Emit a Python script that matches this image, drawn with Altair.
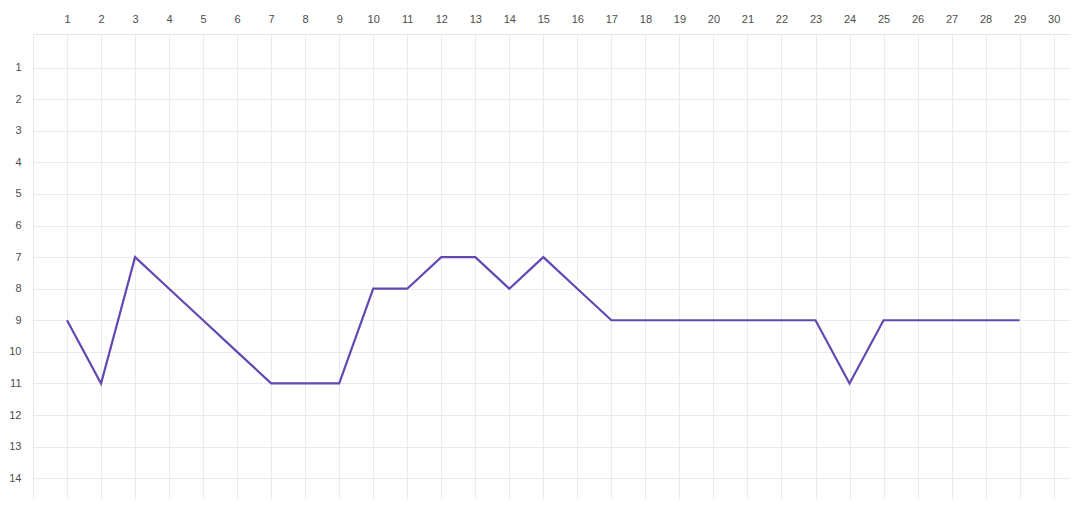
import altair as alt
import pandas as pd

days = list(range(1, 30))
ranks = [9, 11, 7, 8, 9, 10, 11, 11, 11, 8, 8, 7, 7, 8, 7, 8, 9, 9, 9, 9, 9, 9, 9, 11, 9, 9, 9, 9, 9]
x_ticks = list(range(0, 31))
y_ticks = list(range(1, 15))

df = pd.DataFrame({"day": days, "rank": ranks})

chart = alt.Chart(df).mark_line(color="#6248b2", strokeWidth=2.2).encode(
    x=alt.X("day:Q", scale=alt.Scale(domain=[0, 30.48], nice=False, zero=False),
            axis=alt.Axis(orient="top", values=x_ticks, title=None, domain=True,
                          domainColor="#e4e4e4", domainWidth=1, ticks=False,
                          labelExpr="datum.value == 0 ? '' : datum.label",
                          labelFont="Liberation Sans", labelFontSize=11, labelColor="#4d4d4d",
                          labelPadding=10, gridColor="#ebebeb", gridWidth=1, labelFlush=False)),
    y=alt.Y("rank:Q", scale=alt.Scale(domain=[-0.065, 14.66], nice=False, zero=False, reverse=True),
            axis=alt.Axis(values=y_ticks, title=None, domain=False, ticks=False,
                          labelFont="Liberation Sans", labelFontSize=11, labelColor="#4d4d4d",
                          labelPadding=12, gridColor="#ebebeb", gridWidth=1, labelFlush=False)),
).properties(
    width=1037, height=465,
    autosize=alt.AutoSizeParams(type="none"),
    padding={"left": 25, "top": 26, "right": 0, "bottom": 0},
).configure_view(stroke=None)

chart.save("out.html", embed_options={"renderer": "svg", "actions": False})
